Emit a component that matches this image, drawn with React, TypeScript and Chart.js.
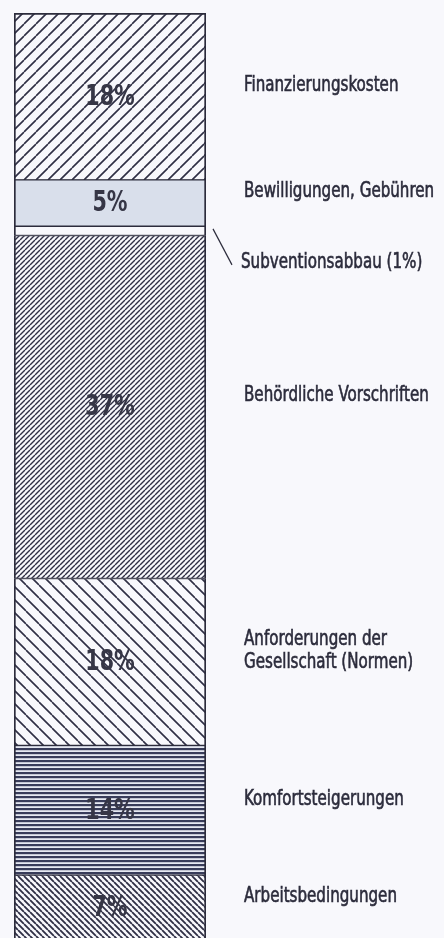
import React, { useEffect, useRef } from "react";
import { Chart, registerables } from "chart.js";

Chart.register(...registerables);

// Stacked from bottom to top
const categories = [
  "Arbeitsbedingungen",
  "Komfortsteigerungen",
  "Anforderungen der|Gesellschaft (Normen)",
  "Behördliche Vorschriften",
  "Subventionsabbau (1%)",
  "Bewilligungen, Gebühren",
  "Finanzierungskosten",
];
const shares = [7, 14, 18, 37, 1, 5, 18];
const shareLabels = ["7%", "14%", "18%", "37%", "", "5%", "18%"];
const axisCategory = ["Kosten"];

const BG = "#f8f8fc";
const INK = "#2c2c3c";
const FONT = '"DejaVu Sans Condensed", "DejaVu Sans", sans-serif';

function hatch(kind: string, s: number, lw: number, color: string, bg: string) {
  const c = document.createElement("canvas");
  c.width = s;
  c.height = s;
  const g = c.getContext("2d")!;
  g.fillStyle = bg;
  g.fillRect(0, 0, s, s);
  g.strokeStyle = color;
  g.fillStyle = color;
  g.lineWidth = lw;
  if (kind === "h") {
    g.fillRect(0, 0, s, lw);
  } else {
    g.beginPath();
    for (const k of [-1, 0, 1]) {
      if (kind === "/") {
        g.moveTo(k * s, s);
        g.lineTo(k * s + s, 0);
      } else {
        g.moveTo(k * s, 0);
        g.lineTo(k * s + s, s);
      }
    }
    g.stroke();
  }
  return g.createPattern(c, "repeat")!;
}

function narrowText(ctx: any, text: string, x: number, y: number, sx: number, stroke: number) {
  ctx.save();
  ctx.translate(x, y);
  ctx.scale(sx, 1);
  ctx.fillText(text, 0, 0);
  if (stroke > 0) {
    ctx.lineWidth = stroke;
    ctx.strokeStyle = ctx.fillStyle;
    ctx.strokeText(text, 0, 0);
  }
  ctx.restore();
}

export default function App() {
  const ref = useRef<HTMLCanvasElement>(null);

  useEffect(() => {
    const fills: any[] = [
      hatch("\\", 6, 1.8, "#2f2f45", BG),
      hatch("h", 4, 2.2, "#383c5a", "#e6e9f2"),
      hatch("\\", 13, 1.6, "#2f2f45", BG),
      hatch("/", 5, 1.4, "#2f2f45", BG),
      BG,
      "#d9dfeb",
      hatch("/", 12, 1.6, "#2f2f45", BG),
    ];

    const bgPlugin = {
      id: "bg",
      beforeDraw(chart: any) {
        const ctx = chart.ctx;
        ctx.save();
        ctx.fillStyle = BG;
        ctx.fillRect(0, 0, chart.width, chart.height);
        ctx.restore();
      },
    };

    const labelPlugin = {
      id: "labels",
      afterDatasetsDraw(chart: any) {
        const ctx = chart.ctx;
        ctx.save();
        chart.data.datasets.forEach((ds: any, i: number) => {
          const el = chart.getDatasetMeta(i).data[0];
          const top = Math.min(el.y, el.base);
          const bot = Math.max(el.y, el.base);
          const mid = (top + bot) / 2;
          const right = el.x + el.width / 2;
          // value label inside the bar
          if (shareLabels[i]) {
            ctx.font = `bold 28px ${FONT}`;
            ctx.fillStyle = "#363646";
            ctx.textAlign = "center";
            ctx.textBaseline = "middle";
            narrowText(ctx, shareLabels[i], el.x, mid + 1, 0.82, 0);
          }
          // category label on the right
          ctx.font = `21px ${FONT}`;
          ctx.fillStyle = INK;
          ctx.textAlign = "left";
          ctx.textBaseline = "middle";
          const lines = ds.label.split("|");
          if (ds.data[0] < 2) {
            ctx.strokeStyle = INK;
            ctx.lineWidth = 1.2;
            ctx.beginPath();
            ctx.moveTo(right + 7, mid - 2);
            ctx.lineTo(right + 26, mid + 34);
            ctx.stroke();
            narrowText(ctx, lines[0], right + 35, mid + 32, 0.8, 0.6);
          } else {
            const lh = 23;
            const y0 = mid - 11 - ((lines.length - 1) * lh) / 2;
            lines.forEach((t: string, k: number) => narrowText(ctx, t, right + 38, y0 + k * lh, 0.8, 0.6));
          }
        });
        ctx.restore();
      },
    };

    const chart = new Chart(ref.current!, {
      type: "bar",
      data: {
        labels: axisCategory,
        datasets: categories.map((c, i) => ({
          label: c,
          data: [shares[i]],
          backgroundColor: fills[i],
          borderColor: INK,
          borderWidth: { left: 2, right: 2, top: i === categories.length - 1 ? 2 : 1, bottom: 1 },
          borderSkipped: false,
          barPercentage: 1,
          categoryPercentage: 1,
        })),
      },
      options: {
        responsive: false,
        animation: false,
        devicePixelRatio: 1,
        layout: { padding: { left: 14, right: 238, top: 13, bottom: 4 } },
        plugins: { legend: { display: false }, tooltip: { enabled: false } },
        scales: {
          x: { stacked: true, display: false },
          y: { stacked: true, display: false, min: 0, max: 100 },
        },
      },
      plugins: [bgPlugin, labelPlugin],
    });
    return () => chart.destroy();
  }, []);

  return (
    <div style={{ position: "fixed", left: 0, top: 0, width: 444, height: 944, background: BG }}>
      <canvas ref={ref} width={444} height={944} style={{ display: "block" }} />
    </div>
  );
}
